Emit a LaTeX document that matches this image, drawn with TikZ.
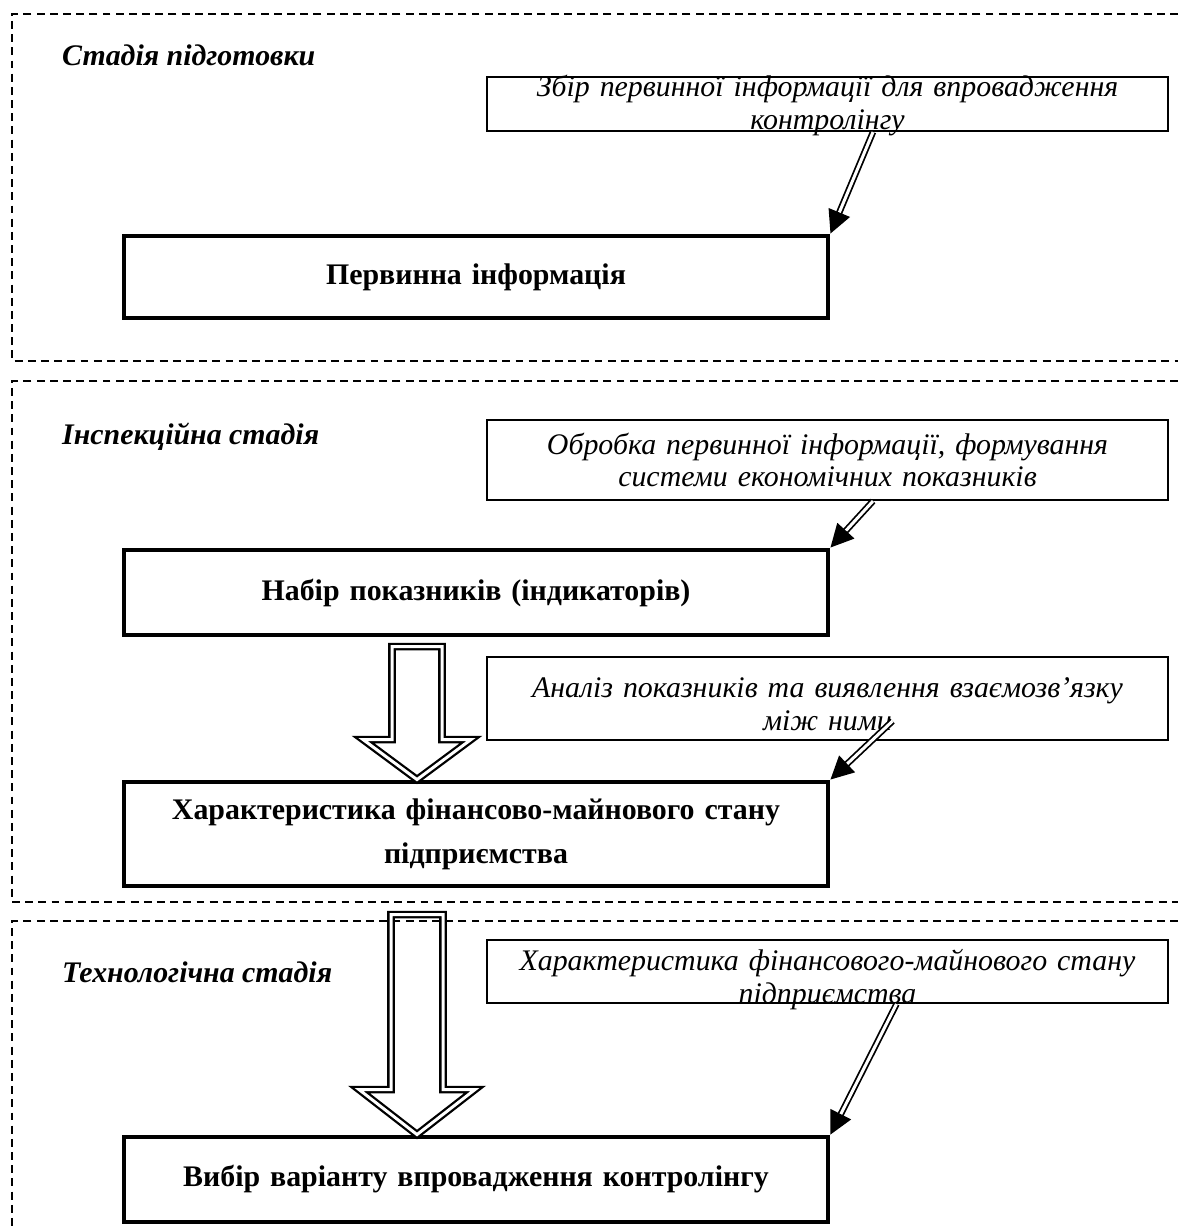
\documentclass[tikz,border=0pt]{standalone}
\usepackage{fontspec}
\setmainfont{Liberation Serif}
\usetikzlibrary{arrows.meta, positioning, calc}
\tikzstyle{mainbox} = [rectangle, draw, line width=2.8pt, minimum width=14.08cm, text width=13.8cm, text centered, font=\fontsize{17}{25}\selectfont\bfseries]
\tikzstyle{notebox} = [rectangle, draw, line width=1.2pt, minimum width=13.62cm, text width=13.5cm, text centered, inner sep=0pt, font=\fontsize{17}{18.5}\selectfont\itshape]
\tikzstyle{stagelabel} = [anchor=west, font=\fontsize{17}{20}\selectfont\bfseries\itshape]
\tikzstyle{stageframe} = [line width=1pt, dash pattern=on 4.5pt off 3pt]
\tikzstyle{dblArrow} = [line width=1pt, double distance=1.7pt, arrows={-Triangle[length=13pt, width=13pt]}]
\tikzstyle{hollowArrow} = [line width=1.3pt, double distance=1.7pt, line join=miter]

\begin{document}
\begin{tikzpicture}
    \useasboundingbox (0, 0) rectangle (23.56, -24.6);

    % stage frames
    \draw[stageframe] (23.56, -0.28) -| (0.24, -7.22) -- (23.56, -7.22);
    \draw[stageframe] (23.56, -7.62) -| (0.24, -18.04) -- (23.56, -18.04);
    \draw[stageframe] (23.56, -18.42) -| (0.24, -24.6);

    \node[stagelabel] at (1.12, -1.1) (prep) {Стадія підготовки};
    \node[stagelabel] at (1.12, -8.74) (insp) {Інспекційна стадія};
    \node[stagelabel] at (1.12, -19.44) (tech) {Технологічна стадія};

    \node[notebox, minimum height=1.08cm, text height=0pt, text depth=8pt] at (16.55, -2.08) (collect) {Збір первинної інформації для впровадження\\ контролінгу};
    \node[mainbox, minimum height=1.64cm] at (9.52, -5.54) (primary) {Первинна інформація};

    \node[notebox, minimum height=1.6cm] at (16.55, -9.2) (process) {Обробка первинної інформації, формування\\ системи економічних показників};
    \node[mainbox, minimum height=1.7cm] at (9.52, -11.85) (indicators) {Набір показників (індикаторів)};

    \node[notebox, minimum height=1.66cm, text height=0pt, text depth=1pt] at (16.55, -13.97) (analysis) {Аналіз показників та виявлення взаємозв’язку\\ між ними};
    \node[mainbox, minimum height=2.08cm] at (9.52, -16.68) (state) {Характеристика фінансово-майнового стану\\ підприємства};

    \node[notebox, minimum height=1.26cm, text height=0pt, text depth=1pt] at (16.55, -19.43) (statenote) {Характеристика фінансового-майнового стану\\ підприємства};
    \node[mainbox, minimum height=1.7cm] at (9.52, -23.59) (choice) {Вибір варіанту впровадження контролінгу};

    \draw[dblArrow] ([xshift=0.91cm]collect.south) -- (primary.north east);
    \draw[dblArrow] ([xshift=0.91cm]process.south) -- (indicators.north east);
    \draw[dblArrow] ([xshift=1.3cm, yshift=0.4cm]analysis.south) -- (state.north east);
    \draw[dblArrow] ([xshift=1.38cm]statenote.south) -- (choice.north east);

    \draw[hollowArrow] ([xshift=-1.18cm]state.north) -- ++(1.08, 0.8) -- ++(-0.58, 0) -- ++(0, 1.86) -- ++(-1.0, 0) -- ++(0, -1.86) -- ++(-0.58, 0) -- cycle;
    \draw[hollowArrow] ([xshift=-1.18cm]choice.north) -- ++(1.16, 0.9) -- ++(-0.64, 0) -- ++(0, 3.5) -- ++(-1.04, 0) -- ++(0, -3.5) -- ++(-0.64, 0) -- cycle;
\end{tikzpicture}
\end{document}
